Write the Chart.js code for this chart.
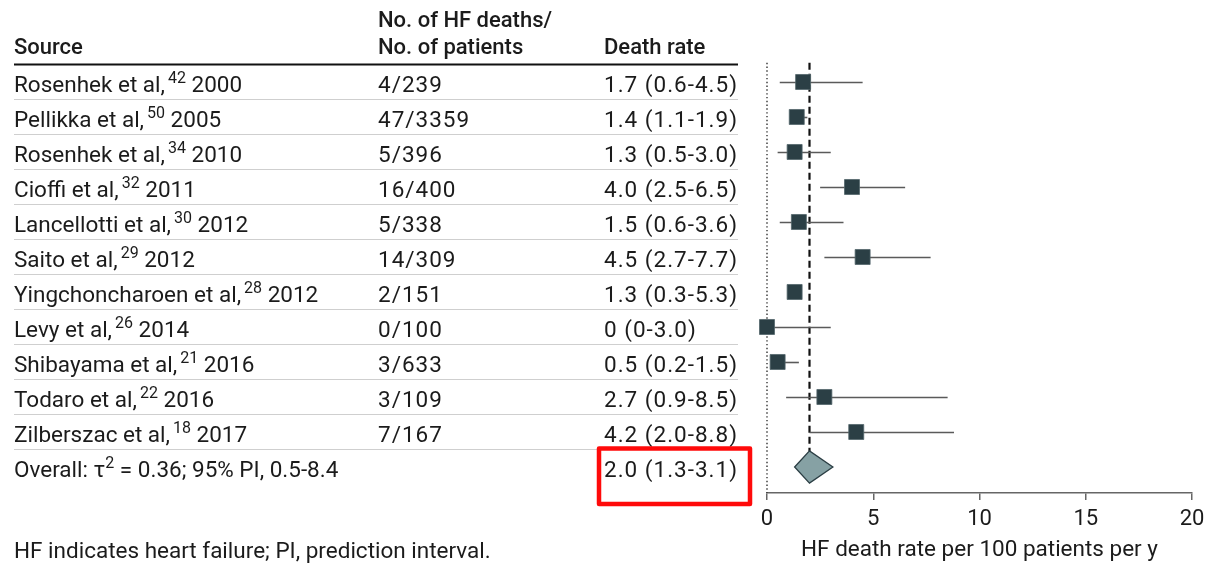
<!DOCTYPE html>
<html lang="en">
<head>
  <meta charset="UTF-8" />
  <title>HF death rate</title>
  <script src="https://cdn.jsdelivr.net/npm/chart.js"></script>
  <style>
    html, body { margin: 0; padding: 0; background: #fff; }
    #wrap { width: 1206px; height: 565px; }
  </style>
</head>
<body>
<div id="wrap"><canvas id="forest" width="1206" height="565"></canvas></div>

<script>
// data
var sources = ['Rosenhek et al,', 'Pellikka et al,', 'Rosenhek et al,', 'Cioffi et al,', 'Lancellotti et al,',
  'Saito et al,', 'Yingchoncharoen et al,', 'Levy et al,', 'Shibayama et al,', 'Todaro et al,', 'Zilberszac et al,'];
var refs = ['42', '50', '34', '32', '30', '29', '28', '26', '21', '22', '18'];
var years = ['2000', '2005', '2010', '2011', '2012', '2012', '2012', '2014', '2016', '2016', '2017'];
var deaths = [4, 47, 5, 16, 5, 14, 2, 0, 3, 3, 7];
var patients = [239, 3359, 396, 400, 338, 309, 151, 100, 633, 109, 167];
var rates = [1.7, 1.4, 1.3, 4.0, 1.5, 4.5, 1.3, 0, 0.5, 2.7, 4.2];
var lower = [0.6, 1.1, 0.5, 2.5, 0.6, 2.7, 0.3, 0, 0.2, 0.9, 2.0];
var upper = [4.5, 1.9, 3.0, 6.5, 3.6, 7.7, 5.3, 3.0, 1.5, 8.5, 8.8];
// the source figure shows no whisker on this row (Yingchoncharoen)
var noWhisker = [6];

var overallRate = 2.0;
var overallLower = 1.3;
var overallUpper = 3.1;
var overallTau2 = '0.36';
var overallPI = '0.5-8.4';

var xTicks = [0, 5, 10, 15, 20];

var FONT = 'Roboto, "Noto Sans", sans-serif';
var TXT = '#1b1b1b';

function fmt(v) {
  return v === 0 ? '0' : v.toFixed(1);
}

// text with superscript pieces
function drawParts(ctx, x, y, parts, size) {
  var cx = x;
  parts.forEach(function (p) {
    if (p.sup) {
      ctx.font = Math.round(size * 0.7) + 'px ' + FONT;
      cx += p.gap || 0;
      ctx.fillText(p.t, cx, y - size * 0.4);
    } else {
      ctx.font = size + 'px ' + FONT;
      ctx.fillText(p.t, cx, y);
    }
    cx += ctx.measureText(p.t).width;
  });
}

var forestPlugin = {
  id: 'forestTable',
  beforeDatasetsDraw: function (chart) {
    var ctx = chart.ctx;
    var xs = chart.scales.x, ys = chart.scales.y;
    var topY = ys.getPixelForValue(-0.55);
    ctx.save();

    // reference line at zero
    ctx.strokeStyle = '#333';
    ctx.lineWidth = 1.4;
    ctx.setLineDash([1.4, 2.4]);
    ctx.beginPath();
    ctx.moveTo(xs.getPixelForValue(0), topY);
    ctx.lineTo(xs.getPixelForValue(0), chart.chartArea.bottom);
    ctx.stroke();

    // pooled estimate line
    ctx.strokeStyle = '#111';
    ctx.lineWidth = 2.2;
    ctx.setLineDash([7, 4]);
    ctx.beginPath();
    ctx.moveTo(xs.getPixelForValue(overallRate), topY);
    ctx.lineTo(xs.getPixelForValue(overallRate), ys.getPixelForValue(11 - 0.46));
    ctx.stroke();
    ctx.setLineDash([]);

    // confidence intervals
    ctx.strokeStyle = '#5a5a5a';
    ctx.lineWidth = 1.6;
    for (var i = 0; i < rates.length; i++) {
      if (noWhisker.indexOf(i) >= 0) continue;
      var y = Math.round(ys.getPixelForValue(i)) + 0.5;
      ctx.beginPath();
      ctx.moveTo(xs.getPixelForValue(lower[i]), y);
      ctx.lineTo(xs.getPixelForValue(upper[i]), y);
      ctx.stroke();
    }
    ctx.restore();
  },
  afterDatasetsDraw: function (chart) {
    var ctx = chart.ctx;
    var xs = chart.scales.x, ys = chart.scales.y;
    var yc = ys.getPixelForValue(11);
    var h = ys.getPixelForValue(11.46) - yc;
    ctx.save();
    ctx.beginPath();
    ctx.moveTo(xs.getPixelForValue(overallLower), yc);
    ctx.lineTo(xs.getPixelForValue(overallRate), yc - h);
    ctx.lineTo(xs.getPixelForValue(overallUpper), yc);
    ctx.lineTo(xs.getPixelForValue(overallRate), yc + h);
    ctx.closePath();
    ctx.fillStyle = '#86a1a4';
    ctx.fill();
    ctx.strokeStyle = '#2b3e44';
    ctx.lineWidth = 1.3;
    ctx.stroke();
    ctx.restore();
  },
  afterDraw: function (chart) {
    var ctx = chart.ctx;
    var ys = chart.scales.y;
    var col1 = 14, col2 = 378, col3 = 604, lineEnd = 738;
    var size = 22.5;
    ctx.save();
    ctx.fillStyle = TXT;
    ctx.textBaseline = 'alphabetic';
    ctx.textAlign = 'left';

    // header
    ctx.font = '500 22px ' + FONT;
    var h1 = ys.getPixelForValue(-1.8) + 8;
    var h2 = ys.getPixelForValue(-1.02) + 8;
    ctx.fillText('No. of HF deaths/', col2, h1);
    ctx.fillText('Source', col1, h2);
    ctx.fillText('No. of patients', col2, h2);
    ctx.fillText('Death rate', col3, h2);

    ctx.strokeStyle = '#111';
    ctx.lineWidth = 2;
    var hl = ys.getPixelForValue(-0.5);
    ctx.beginPath();
    ctx.moveTo(col1, hl);
    ctx.lineTo(lineEnd, hl);
    ctx.stroke();

    // rows
    for (var i = 0; i < sources.length; i++) {
      var base = ys.getPixelForValue(i) + 10;
      ctx.letterSpacing = '0px';
      drawParts(ctx, col1, base, [{ t: sources[i] }, { t: refs[i], sup: true, gap: 3 }, { t: ' ' + years[i] }], size);
      ctx.font = size + 'px ' + FONT;
      ctx.letterSpacing = '1px';
      ctx.fillText(deaths[i] + '/' + patients[i], col2, base);
      ctx.fillText(fmt(rates[i]) + ' (' + fmt(lower[i]) + '-' + fmt(upper[i]) + ')', col3, base);
      ctx.letterSpacing = '0px';

      var sep = Math.round(ys.getPixelForValue(i + 0.5)) + 0.5;
      ctx.strokeStyle = '#cfcfcf';
      ctx.lineWidth = 1;
      ctx.beginPath();
      ctx.moveTo(col1, sep);
      ctx.lineTo(lineEnd, sep);
      ctx.stroke();
    }

    // overall row
    var ob = ys.getPixelForValue(11) + 10;
    drawParts(ctx, col1, ob, [{ t: 'Overall: \u03c4' }, { t: '2', sup: true, gap: 0 },
      { t: ' = ' + overallTau2 + '; 95% PI, ' + overallPI }], size);
    ctx.font = size + 'px ' + FONT;
    ctx.letterSpacing = '1px';
    ctx.fillText(fmt(overallRate) + ' (' + fmt(overallLower) + '-' + fmt(overallUpper) + ')', col3, ob);
    ctx.letterSpacing = '0px';

    // highlight box
    var bt = ys.getPixelForValue(10.5) - 1;
    var bb = ys.getPixelForValue(11) + 37;
    ctx.strokeStyle = '#ff0a0a';
    ctx.lineWidth = 4.5;
    ctx.lineJoin = 'round';
    ctx.strokeRect(599, bt, 151, bb - bt);

    // footnote
    ctx.font = '22.5px ' + FONT;
    ctx.fillText('HF indicates heart failure; PI, prediction interval.', col1, 558);
    ctx.restore();
  }
};

var pontos = rates.map(function (r, i) { return { x: r, y: i }; });

var config = {
  type: 'scatter',
  data: {
    datasets: [{
      label: 'Death rate',
      data: pontos,
      pointStyle: 'rect',
      pointRadius: 10.6,
      pointHoverRadius: 10.6,
      backgroundColor: '#2b3f45',
      borderColor: '#53666b',
      borderWidth: 0.8,
      clip: false
    }]
  },
  options: {
    responsive: false,
    animation: false,
    devicePixelRatio: 1,
    layout: { padding: { left: 767, right: 14, top: 64, bottom: 0 } },
    plugins: {
      legend: { display: false },
      tooltip: { enabled: false }
    },
    scales: {
      x: {
        type: 'linear',
        position: 'bottom',
        min: 0,
        max: 20,
        afterBuildTicks: function (s) {
          s.ticks = xTicks.map(function (v) { return { value: v }; });
        },
        afterFit: function (s) {
          s.height = 72;
          s.paddingLeft = 0;
          s.paddingRight = 0;
        },
        ticks: {
          color: TXT,
          padding: 6,
          font: { family: FONT, size: 22 }
        },
        grid: {
          drawOnChartArea: false,
          tickLength: 7,
          color: '#666',
          lineWidth: 1.5
        },
        border: { color: '#666', width: 1.5 },
        title: {
          display: true,
          text: 'HF death rate per 100 patients per y',
          color: TXT,
          font: { family: FONT, size: 22.5 },
          padding: { top: 0, bottom: 1 }
        }
      },
      y: {
        type: 'linear',
        display: false,
        reverse: true,
        min: -0.514,
        max: 11.743
      }
    }
  },
  plugins: [forestPlugin]
};

var grafico = new Chart(document.getElementById('forest'), config);
</script>
</body>
</html>
